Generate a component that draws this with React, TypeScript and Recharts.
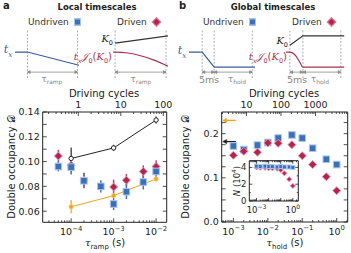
import React from 'react';
import { ScatterChart, Scatter, XAxis, YAxis, ErrorBar, ReferenceLine, LineChart, Line } from 'recharts';

const FONT = '"DejaVu Sans", sans-serif';
const BLUE = '#3d6fb6';
const BLUE_EDGE = '#a9c6ec';
const RED = '#b3254f';
const RED_EDGE = '#e690ad';
const ORANGE = '#f4a21d';
const INK = '#222';

// ---- panel a: ramp time scan ----
const rampRedT = [5e-5, 1e-4, 2e-4, 1e-3, 2e-3, 5e-3, 1e-2];
const rampRedD = [0.1045, 0.097, 0.085, 0.0795, 0.085, 0.092, 0.096];
const rampRedErr = [0.005, 0.005, 0.006, 0.006, 0.005, 0.005, 0.005];
const rampBlueT = [5e-5, 1e-4, 2e-4, 5e-4, 1e-3, 2e-3, 5e-3, 1e-2];
const rampBlueD = [0.096, 0.0955, 0.0845, 0.08, 0.0658, 0.0757, 0.0835, 0.092];
const rampBlueErr = [0.004, 0.006, 0.006, 0.005, 0.005, 0.006, 0.006, 0.005];
const rampBlackT = [1e-4, 1e-3, 1e-2];
const rampBlackD = [0.1025, 0.111, 0.1335];
const rampBlackErr = [0.0088, 0.0025, 0.0028];
const rampOrangeT = [1e-4, 1e-3, 1e-2];
const rampOrangeD = [0.0635, 0.0725, 0.086];
const rampOrangeErr = [0.0055, 0.002, 0.002];

// ---- panel b: hold time scan ----
const holdT = [1e-3, 2e-3, 5e-3, 1e-2, 2e-2, 5e-2, 1e-1, 2e-1, 5e-1, 1];
const holdBlueD = [0.172, 0.164, 0.174, 0.18, 0.19, 0.197, 0.19, 0.167, 0.142, 0.13];
const holdRedD = [0.151, 0.16, 0.158, 0.179, 0.178, 0.175, 0.15, 0.13, 0.1025, 0.071];
const holdBlueN = [4.15, 4.1, 4.15, 4.1, 4.1, 4.05, 4.1, 4.05, 4.05, 4.0];
const holdRedN = [4.0, 3.95, 3.95, 3.9, 3.9, 3.85, 3.7, 3.3, 2.6, 1.8];
const orangeRef = 0.23;
const blackRef = 0.182;

// axis ranges
const rampDom = [Math.pow(10, -4.67), Math.pow(10, -1.75)];
const rampCycDom = [Math.pow(10, -0.838), Math.pow(10, 2.08)];
const rampYDom = [0.051, 0.14];
const rampYTicks = [0.06, 0.07, 0.08, 0.09, 0.1, 0.11, 0.12, 0.13, 0.14];
const rampYLabels = [0.06, 0.08, 0.1, 0.12, 0.14];
const holdDom = [Math.pow(10, -3.34), Math.pow(10, 0.32)];
const holdCycDom = [Math.pow(10, 0.281), Math.pow(10, 3.933)];
const holdYDom = [0, 0.249];
const holdYTicks = [0, 0.025, 0.05, 0.075, 0.1, 0.125, 0.15, 0.175, 0.2, 0.225];
const holdYLabels = [0, 0.1, 0.2];
const insetXDom = [Math.pow(10, -3.6), Math.pow(10, 0.45)];
const insetYDom = [0, 4.8];
const insetYTicks = [0, 1, 2, 3, 4];
const insetYLabels = [0, 2, 4];

const logTicks = (dom: number[]) => {
  const out: number[] = [];
  for (let k = Math.floor(Math.log10(dom[0])); k <= Math.ceil(Math.log10(dom[1])); k++) {
    for (let m = 1; m < 10; m++) {
      const v = m * Math.pow(10, k);
      if (v >= dom[0] && v <= dom[1]) out.push(v);
    }
  }
  return out;
};
const isDecade = (v: number) => Math.abs(Math.log10(v) - Math.round(Math.log10(v))) < 1e-6;
const inList = (list: number[]) => (v: number) => list.some((l) => Math.abs(l - v) < 1e-9);

const powLabel = (fs: number) => (v: number) => {
  const e = Math.round(Math.log10(v));
  return (
    <>
      <tspan>10</tspan>
      <tspan dy={-fs * 0.45} fontSize={fs * 0.72}>{e < 0 ? '\u2212' + -e : String(e)}</tspan>
    </>
  );
};

type Side = 'left' | 'right' | 'top' | 'bottom';
const makeTick = (side: Side, isMajor: (v: number) => boolean, label: any, fs = 9.5, majLen = 4, minLen = 2) =>
  (p: any) => {
    const { x, y, payload } = p;
    const v = payload.value;
    const maj = isMajor(v);
    const L = maj ? majLen : minLen;
    const ln =
      side === 'bottom' ? [x, y, x, y - L] : side === 'top' ? [x, y, x, y + L] : side === 'left' ? [x, y, x + L, y] : [x, y, x - L, y];
    let txt: any = null;
    const showLabel = label && (typeof label.show === 'function' ? label.show(v) : maj);
    if (showLabel) {
      const content = label.fmt(v);
      if (side === 'bottom')
        txt = <text x={x} y={y + fs + 3} textAnchor="middle" fontSize={fs} fill={INK} fontFamily={FONT}>{content}</text>;
      else if (side === 'top')
        txt = <text x={x} y={y - 4} textAnchor="middle" fontSize={fs} fill={INK} fontFamily={FONT}>{content}</text>;
      else if (side === 'left')
        txt = <text x={x - 3} y={y + fs * 0.36} textAnchor="end" fontSize={fs} fill={INK} fontFamily={FONT}>{content}</text>;
    }
    return (
      <g>
        <line x1={ln[0]} y1={ln[1]} x2={ln[2]} y2={ln[3]} stroke={INK} strokeWidth={0.8} />
        {txt}
      </g>
    );
  };

const square = (s: number) => (p: any) => (
  <rect x={p.cx - s} y={p.cy - s} width={2 * s} height={2 * s} fill={BLUE} stroke={BLUE_EDGE} strokeWidth={1} />
);
const diamond = (s: number) => (p: any) => (
  <polygon
    points={`${p.cx},${p.cy - s} ${p.cx + s},${p.cy} ${p.cx},${p.cy + s} ${p.cx - s},${p.cy}`}
    fill={RED}
    stroke={RED_EDGE}
    strokeWidth={1}
  />
);
const openCircle = (p: any) => <circle cx={p.cx} cy={p.cy} r={2.2} fill="#fff" stroke={INK} strokeWidth={1} />;
const orangeCircle = (p: any) => <circle cx={p.cx} cy={p.cy} r={2.2} fill={ORANGE} stroke="#f8c872" strokeWidth={0.8} />;
const noMark = () => <g />;

const rows = (xs: number[], ys: number[], es?: number[]) => xs.map((t, i) => ({ t, d: ys[i], e: es ? es[i] : 0 }));
// invisible anchors so the top / right frame axes get drawn
const corners = (xd: number[], yd: number[]) => [{ t: xd[0], d: yd[0] }, { t: xd[1], d: yd[1] }];

const gapArrow = (p: any) => {
  const { x1, y1, x2, y2 } = p;
  return (
    <g stroke="#8a8a8a" strokeWidth={0.8} fill="#8a8a8a">
      <line x1={x1} y1={y1} x2={x2} y2={y2} />
      <path d={`M${x1},${y1} l2.6,-1.4 l0,2.8 z`} />
      <path d={`M${x2},${y2} l-2.6,-1.4 l0,2.8 z`} />
    </g>
  );
};
const refArrow = (color: string) => (p: any) => {
  const { x1, y1, x2, y2 } = p;
  return (
    <g stroke={color} strokeWidth={1.3} fill={color}>
      <line x1={x1 + 3} y1={y1} x2={x2} y2={y2} />
      <path d={`M${x1 + 1},${y1} l4,-2.2 l0,4.4 z`} strokeWidth={0.5} />
    </g>
  );
};

// ---- schematic data (arbitrary time units, normalized amplitude) ----
const schA1 = { t: [-0.25, 0, 1.03], v: [0.53, 0.53, 0.26] };
const schA2K = { t: [0, 1.05], v: [0.71, 0.86] };
const schA2J = { t: [-0.04, 0, 0.25, 0.5, 0.75, 1.05], v: [0.53, 0.53, 0.51, 0.455, 0.37, 0.235] };
const schB1 = { t: [-1.1, 0, 1, 4.4], v: [0.53, 0.53, 0.22, 0.22] };
const schB2K = { t: [0, 1, 4.2], v: [0.67, 0.86, 0.86] };
const schB2J = { t: [-0.3, 0, 0.4, 0.75, 1, 4.2], v: [0.53, 0.53, 0.47, 0.33, 0.22, 0.22] };

function Schematic(props: any) {
  const { x, y, w, h, dom, lines, dashes, arrows } = props;
  return (
    <div style={{ position: 'absolute', left: x, top: y }}>
      <LineChart width={w} height={h} margin={{ top: 0, right: 0, bottom: 0, left: 0 }}>
        <XAxis type="number" dataKey="t" domain={dom} hide allowDataOverflow />
        <YAxis type="number" domain={[0, 1]} hide allowDataOverflow />
        {dashes.map((d: number) => (
          <ReferenceLine key={'d' + d} x={d} stroke="#9a9a9a" strokeDasharray="2 1.5" strokeWidth={0.8} />
        ))}
        {arrows.map((a: number[], i: number) => (
          <ReferenceLine key={'a' + i} segment={[{ x: a[0], y: 0.12 }, { x: a[1], y: 0.12 }]} shape={gapArrow} />
        ))}
        {lines.map((l: any, i: number) => (
          <Line
            key={i}
            data={l.t.map((t: number, j: number) => ({ t, v: l.v[j] }))}
            dataKey="v"
            type={l.curve ? 'monotone' : 'linear'}
            stroke={l.color}
            strokeWidth={1.2}
            dot={false}
            isAnimationActive={false}
          />
        ))}
      </LineChart>
    </div>
  );
}

const Txt = (p: any) => {
  const { x, y, size = 10, anchor = 'middle', rotate = false, style = {}, children } = p;
  const tx = anchor === 'middle' ? '-50%' : anchor === 'end' ? '-100%' : '0';
  return (
    <div
      style={{
        position: 'absolute',
        left: x,
        top: y,
        transform: `translate(${tx}, -50%)${rotate ? ' rotate(-90deg)' : ''}`,
        fontSize: size,
        whiteSpace: 'nowrap',
        lineHeight: 1,
        fontFamily: FONT,
        color: INK,
        ...style,
      }}
    >
      {children}
    </div>
  );
};

const Sq = () => (
  <span style={{ display: 'inline-block', width: 5, height: 5, background: BLUE, border: `1px solid ${BLUE_EDGE}`, marginLeft: 5, verticalAlign: 'middle' }} />
);
const Dm = () => (
  <span style={{ display: 'inline-block', width: 5, height: 5, background: RED, border: `1px solid ${RED_EDGE}`, marginLeft: 6, transform: 'rotate(45deg)', verticalAlign: 'middle' }} />
);

const serifIt = { fontFamily: '"DejaVu Serif", serif', fontStyle: 'italic' };
const TX = (p: any) => (
  <span style={{ ...serifIt, color: p.color }}>
    t<sub style={{ fontSize: '0.65em' }}>x</sub>
  </span>
);
const K0 = () => (
  <>
    <span style={serifIt}>K</span>
    <sub style={{ fontSize: '0.65em' }}>0</sub>
  </>
);

export default function App() {
  const aBlue = rows(rampBlueT, rampBlueD, rampBlueErr);
  const aRed = rows(rampRedT, rampRedD, rampRedErr);
  const aBlack = rows(rampBlackT, rampBlackD, rampBlackErr);
  const aOrange = rows(rampOrangeT, rampOrangeD, rampOrangeErr);
  const bBlue = rows(holdT, holdBlueD);
  const bRed = rows(holdT, holdRedD);
  const iBlue = rows(holdT, holdBlueN);
  const iRed = rows(holdT, holdRedN);

  const axisCommon = { tickSize: 0, tickMargin: 0, tickLine: false, interval: 0 as const, stroke: INK, allowDataOverflow: true };

  return (
    <div style={{ position: 'absolute', left: 0, top: 0, width: 351, height: 253, background: '#fff', overflow: 'hidden', fontFamily: FONT }}>
      {/* headers */}
      <Txt x={3} y={6} anchor="start" size={10} style={{ fontWeight: 'bold' }}>a</Txt>
      <Txt x={97} y={7} size={8.5} style={{ fontWeight: 'bold' }}>Local timescales</Txt>
      <Txt x={179} y={6} anchor="start" size={10} style={{ fontWeight: 'bold' }}>b</Txt>
      <Txt x={273} y={7} size={8.5} style={{ fontWeight: 'bold' }}>Global timescales</Txt>
      <Txt x={28} y={22} anchor="start" size={9} style={{ color: '#333' }}>Undriven<Sq /></Txt>
      <Txt x={117} y={22} anchor="start" size={9} style={{ color: '#333' }}>Driven<Dm /></Txt>
      <Txt x={203} y={22} anchor="start" size={9} style={{ color: '#333' }}>Undriven<Sq /></Txt>
      <Txt x={292} y={22} anchor="start" size={9} style={{ color: '#333' }}>Driven<Dm /></Txt>

      {/* schematics */}
      <Schematic x={14.5} y={29} w={65} h={49} dom={[-0.25, 1.05]} dashes={[0, 1]} arrows={[[0, 1]]}
        lines={[{ ...schA1, color: '#3a5a9c' }]} />
      <Schematic x={109.9} y={29} w={58.6} h={49} dom={[-0.1, 1.05]} dashes={[0, 1]} arrows={[[0, 1]]}
        lines={[{ ...schA2K, color: '#333' }, { ...schA2J, color: '#a8324f', curve: true }]} />
      <Schematic x={188.8} y={29} w={66} h={49} dom={[-1.1, 4.4]} dashes={[0, 1, 4.17]} arrows={[[0, 1], [1, 4.17]]}
        lines={[{ ...schB1, color: '#3a5a9c' }]} />
      <Schematic x={286.1} y={29} w={58.5} h={49} dom={[-0.3, 4.2]} dashes={[0, 1, 3.92]} arrows={[[0, 1], [1, 3.92]]}
        lines={[{ ...schB2K, color: '#333' }, { ...schB2J, color: '#a8324f', curve: true }]} />

      <Txt x={8} y={51} size={11}><TX color="#3a5a9c" /></Txt>
      <Txt x={182} y={52} size={11}><TX color="#3a5a9c" /></Txt>
      <Txt x={113} y={40} anchor="end" size={10}><K0 /></Txt>
      <Txt x={288} y={42} anchor="end" size={10}><K0 /></Txt>
      {[112, 287].map((ex) => (
        <Txt key={ex} x={ex} y={58} anchor="end" size={10} style={{ color: '#a8324f' }}>
          <TX color="#a8324f" />
          <span style={serifIt}>{'\u{1D4A5}'}</span><sub style={{ fontSize: '0.65em' }}>0</sub>(<K0 />)
        </Txt>
      ))}
      <Txt x={52} y={80} size={8.5} style={{ color: '#888' }}>{'\u03C4'}<sub style={{ fontSize: '0.7em' }}>ramp</sub></Txt>
      <Txt x={141} y={80} size={8.5} style={{ color: '#888' }}>{'\u03C4'}<sub style={{ fontSize: '0.7em' }}>ramp</sub></Txt>
      <Txt x={209} y={80} size={9.5} style={{ color: '#888' }}>5ms</Txt>
      <Txt x={237} y={80} size={8.5} style={{ color: '#888' }}>{'\u03C4'}<sub style={{ fontSize: '0.7em' }}>hold</sub></Txt>
      <Txt x={297} y={80} size={9.5} style={{ color: '#888' }}>5ms</Txt>
      <Txt x={320} y={80} size={8.5} style={{ color: '#888' }}>{'\u03C4'}<sub style={{ fontSize: '0.7em' }}>hold</sub></Txt>

      {/* panel a plot */}
      <div style={{ position: 'absolute', left: 0, top: 88 }}>
        <ScatterChart width={175} height={165} margin={{ top: 0, right: 0, bottom: 0, left: 0 }}>
          <XAxis xAxisId="b" dataKey="t" type="number" scale="log" domain={rampDom} ticks={logTicks(rampDom)} height={30.7}
            tick={makeTick('bottom', isDecade, { fmt: powLabel(9.5) })} {...axisCommon} />
          <XAxis xAxisId="top" dataKey="t" orientation="top" type="number" scale="log" domain={rampCycDom} ticks={logTicks(rampCycDom)} height={24}
            tick={makeTick('top', isDecade, { fmt: (v: number) => String(Math.round(v)) })} {...axisCommon} />
          <YAxis yAxisId="l" dataKey="d" type="number" domain={rampYDom} ticks={rampYTicks} width={42.7}
            tick={makeTick('left', () => true, { fmt: (v: number) => v.toFixed(2), show: inList(rampYLabels) }, 9.5, 4, 4)} {...axisCommon} />
          <YAxis yAxisId="r" dataKey="d" orientation="right" type="number" domain={rampYDom} ticks={rampYTicks} width={8.3}
            tick={makeTick('right', () => true, null, 9.5, 4, 4)} {...axisCommon} />
          <Scatter xAxisId="top" yAxisId="r" data={corners(rampCycDom, rampYDom)} shape={noMark} isAnimationActive={false} />
          <Scatter xAxisId="b" yAxisId="l" data={aBlack} shape={openCircle} line={{ stroke: INK, strokeWidth: 1 }} lineType="joint" isAnimationActive={false}>
            <ErrorBar dataKey="e" direction="y" width={0} stroke={INK} strokeWidth={1.2} />
          </Scatter>
          <Scatter xAxisId="b" yAxisId="l" data={aOrange} shape={orangeCircle} line={{ stroke: ORANGE, strokeWidth: 1 }} lineType="joint" isAnimationActive={false}>
            <ErrorBar dataKey="e" direction="y" width={0} stroke={ORANGE} strokeWidth={1.2} />
          </Scatter>
          <Scatter xAxisId="b" yAxisId="l" data={aRed} shape={diamond(4)} isAnimationActive={false}>
            <ErrorBar dataKey="e" direction="y" width={0} stroke="#b04a72" strokeWidth={1.5} />
          </Scatter>
          <Scatter xAxisId="b" yAxisId="l" data={aBlue} shape={square(3.3)} isAnimationActive={false}>
            <ErrorBar dataKey="e" direction="y" width={0} stroke="#4a6fb5" strokeWidth={1.5} />
          </Scatter>
        </ScatterChart>
      </div>
      <Txt x={104} y={94} size={10}>Driving cycles</Txt>
      <Txt x={12} y={167} size={10} rotate>Double occupancy <span style={{ fontFamily: '"DejaVu Serif", serif' }}>{'\u{1D49F}'}</span></Txt>
      <Txt x={105} y={244} size={10}><span style={serifIt}>{'\u03C4'}</span><sub style={{ fontSize: '0.7em' }}>ramp</sub> (s)</Txt>

      {/* panel b plot */}
      <div style={{ position: 'absolute', left: 175, top: 88 }}>
        <ScatterChart width={176} height={165} margin={{ top: 0, right: 0, bottom: 0, left: 0 }}>
          <XAxis xAxisId="b" dataKey="t" type="number" scale="log" domain={holdDom} ticks={logTicks(holdDom)} height={31}
            tick={makeTick('bottom', isDecade, { fmt: powLabel(9.5) })} {...axisCommon} />
          <XAxis xAxisId="top" dataKey="t" orientation="top" type="number" scale="log" domain={holdCycDom} ticks={logTicks(holdCycDom)} height={24}
            tick={makeTick('top', isDecade, { fmt: (v: number) => String(Math.round(v)) })} {...axisCommon} />
          <YAxis yAxisId="l" dataKey="d" type="number" domain={holdYDom} ticks={holdYTicks} width={46.7}
            tick={makeTick('left', () => true, { fmt: (v: number) => v.toFixed(1), show: inList(holdYLabels) }, 9.5, 4, 4)} {...axisCommon} />
          <YAxis yAxisId="r" dataKey="d" orientation="right" type="number" domain={holdYDom} ticks={holdYTicks} width={3.3}
            tick={makeTick('right', () => true, null, 9.5, 4, 4)} {...axisCommon} />
          <Scatter xAxisId="top" yAxisId="r" data={corners(holdCycDom, holdYDom)} shape={noMark} isAnimationActive={false} />
          <ReferenceLine xAxisId="b" yAxisId="l" segment={[{ x: holdDom[0], y: orangeRef }, { x: Math.pow(10, -2.93), y: orangeRef }]} shape={refArrow(ORANGE)} />
          <ReferenceLine xAxisId="b" yAxisId="l" segment={[{ x: holdDom[0], y: blackRef }, { x: Math.pow(10, -2.93), y: blackRef }]} shape={refArrow(INK)} />
          <Scatter xAxisId="b" yAxisId="l" data={bBlue} shape={square(3.3)} isAnimationActive={false} />
          <Scatter xAxisId="b" yAxisId="l" data={bRed} shape={diamond(4)} isAnimationActive={false} />
        </ScatterChart>
      </div>
      <Txt x={284} y={94} size={10}>Driving cycles</Txt>
      <Txt x={186} y={167} size={10} rotate>Double occupancy <span style={{ fontFamily: '"DejaVu Serif", serif' }}>{'\u{1D49F}'}</span></Txt>
      <Txt x={285} y={244} size={10}><span style={serifIt}>{'\u03C4'}</span><sub style={{ fontSize: '0.7em' }}>hold</sub> (s)</Txt>

      {/* inset */}
      <div style={{ position: 'absolute', left: 249.3, top: 160.7, width: 49, height: 40.3, background: '#fff' }} />
      <div style={{ position: 'absolute', left: 225, top: 150 }}>
        <ScatterChart width={78} height={66} margin={{ top: 0, right: 0, bottom: 0, left: 0 }}>
          <XAxis xAxisId="b" dataKey="t" type="number" scale="log" domain={insetXDom} ticks={logTicks(insetXDom)} height={15}
            tick={makeTick('bottom', isDecade, { fmt: powLabel(8.5), show: inList([1e-3, 1]) }, 8.5, 3, 1.5)} {...axisCommon} />
          <XAxis xAxisId="top" dataKey="t" orientation="top" type="number" scale="log" domain={insetXDom} ticks={logTicks(insetXDom)} height={10.7}
            tick={makeTick('top', isDecade, null, 8.5, 3, 1.5)} {...axisCommon} />
          <YAxis yAxisId="l" dataKey="d" type="number" domain={insetYDom} ticks={insetYTicks} width={24.3}
            tick={makeTick('left', inList(insetYLabels), { fmt: (v: number) => String(v) }, 8.5, 3, 1.5)} {...axisCommon} />
          <YAxis yAxisId="r" dataKey="d" orientation="right" type="number" domain={insetYDom} ticks={insetYTicks} width={4.7}
            tick={makeTick('right', inList(insetYLabels), null, 8.5, 3, 1.5)} {...axisCommon} />
          <Scatter xAxisId="top" yAxisId="r" data={corners(insetXDom, insetYDom)} shape={noMark} isAnimationActive={false} />
          <Scatter xAxisId="b" yAxisId="l" data={iRed} shape={diamond(2.5)} isAnimationActive={false} />
          <Scatter xAxisId="b" yAxisId="l" data={iBlue} shape={square(2)} isAnimationActive={false} />
        </ScatterChart>
      </div>
      <Txt x={236} y={181} size={8.5} rotate><span style={{ fontStyle: 'italic' }}>N</span> (10<sup style={{ fontSize: '0.7em' }}>4</sup>)</Txt>
    </div>
  );
}
